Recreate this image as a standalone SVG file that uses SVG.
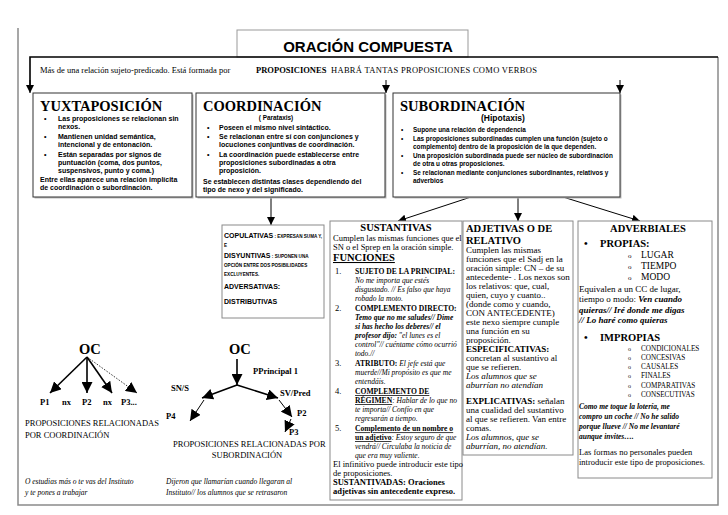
<svg xmlns="http://www.w3.org/2000/svg" width="728" height="515" viewBox="0 0 728 515">
<defs>
<style>
.t{font-family:"Liberation Sans",Arial,sans-serif;font-weight:bold;fill:#000}
.b7{font-family:"Liberation Sans",Arial,sans-serif;font-weight:bold;font-size:7px;fill:#000}
.b6{font-family:"Liberation Sans",Arial,sans-serif;font-weight:bold;font-size:6.4px;fill:#000}
.h{font-family:"Liberation Serif","Times New Roman",serif;font-weight:bold;font-size:14.5px;fill:#000}
.s{font-family:"Liberation Serif","Times New Roman",serif;font-size:8.5px;fill:#000}
.sb{font-family:"Liberation Serif","Times New Roman",serif;font-size:8.5px;font-weight:bold;fill:#000}
.si{font-family:"Liberation Serif","Times New Roman",serif;font-size:7.5px;font-style:italic;fill:#000}
.sbi{font-family:"Liberation Serif","Times New Roman",serif;font-size:7.5px;font-style:italic;font-weight:bold;fill:#000}
.hb{font-family:"Liberation Serif","Times New Roman",serif;font-size:7.6px;font-weight:bold;fill:#000}
.a8{font-family:"Liberation Serif","Times New Roman",serif;font-size:9px;fill:#000}
.sh{font-family:"Liberation Serif","Times New Roman",serif;font-weight:bold;font-size:10.5px;fill:#000}
.ul{text-decoration:underline}
.box{fill:#fff;stroke:#333;stroke-width:1}
.gbox{fill:#fff;stroke:#8a8a8a;stroke-width:1}
.shd{fill:#bbb}
.ln{stroke:#000;stroke-width:1;fill:none}
.thk{stroke:#000;stroke-width:1.6;fill:none}
.frm{stroke:#8a8a8a;stroke-width:1.5;fill:none}
</style>
<marker id="ah" viewBox="0 0 10 10" refX="10" refY="5" markerWidth="8" markerHeight="8" orient="auto" markerUnits="userSpaceOnUse"><path d="M0,0 L10,5 L0,10 z" fill="#000"/></marker>
<marker id="ahb" viewBox="0 0 10 10" refX="10" refY="5" markerWidth="11" markerHeight="11" orient="auto" markerUnits="userSpaceOnUse"><path d="M0,0 L10,5 L0,10 z" fill="#000"/></marker>
</defs>
<rect width="728" height="515" fill="#fff"/>

<!-- page frame -->
<path class="frm" d="M18,28 L18,505 L718,505 L718,57"/>

<!-- title -->
<g id="title">
<rect x="237" y="30" width="231" height="27" fill="#fff" stroke="#999" stroke-width="1"/>
<text class="t" x="368" y="52" font-size="15" text-anchor="middle">ORACIÓN COMPUESTA</text>
</g>

<!-- banner -->
<g id="banner">
<text class="s" x="40" y="73" font-size="8.4">Más de una relación sujeto-predicado. Está formada por</text>
<text class="sb" x="256" y="73" font-size="8.8">PROPOSICIONES</text>
<text class="s" x="331" y="73" font-size="8.8" letter-spacing="0.3">HABRÁ TANTAS PROPOSICIONES COMO VERBOS</text>
</g>

<!-- connectors -->
<g id="connectors">
<path d="M30,86 L30,57 L718,57" stroke="#000" stroke-width="1.6" fill="none"/>
<line class="ln" x1="30" y1="80" x2="30" y2="93" marker-end="url(#ah)"/>
<line class="ln" x1="386" y1="80" x2="386" y2="93" marker-end="url(#ah)"/>
<line class="ln" x1="620" y1="80" x2="620" y2="93" marker-end="url(#ah)"/>
<line class="ln" x1="271" y1="197" x2="271" y2="225" marker-end="url(#ah)"/>
<line class="ln" x1="471" y1="197" x2="398" y2="221" marker-end="url(#ah)"/>
<line class="ln" x1="518" y1="197" x2="518" y2="221" marker-end="url(#ah)"/>
<line class="ln" x1="563" y1="197" x2="640" y2="221" marker-end="url(#ah)"/>
<!-- OC coordinación -->
<line class="thk" x1="87" y1="357" x2="50" y2="393" marker-end="url(#ahb)"/>
<line class="thk" x1="87" y1="357" x2="87" y2="393" marker-end="url(#ahb)"/>
<line class="thk" x1="87" y1="357" x2="112" y2="393" marker-end="url(#ahb)"/>
<line x1="87" y1="357" x2="137" y2="393" stroke="#000" stroke-width="0.8" stroke-dasharray="1.5,1.5" marker-end="url(#ahb)"/>
<!-- OC subordinación -->
<line class="thk" x1="237" y1="359" x2="237" y2="385" marker-end="url(#ahb)"/>
<line class="thk" x1="237" y1="385" x2="202" y2="398" marker-end="url(#ahb)"/>
<line class="thk" x1="237" y1="385" x2="278" y2="398" marker-end="url(#ahb)"/>
<line class="ln" x1="204" y1="400" x2="190" y2="421" marker-end="url(#ahb)"/>
<line class="ln" x1="279" y1="400" x2="292" y2="417" marker-end="url(#ahb)"/>
<line class="ln" x1="291" y1="419" x2="285" y2="432" marker-end="url(#ahb)"/>
</g>

<!-- YUXTAPOSICIÓN -->
<g id="yuxtaposicion">
<rect class="shd" x="34.5" y="94.5" width="159" height="104"/>
<rect class="box" x="33" y="93" width="159" height="104"/>
<text class="h" x="40" y="111">YUXTAPOSICIÓN</text>
<g class="b7">
<text x="44" y="121">•</text><text x="58" y="121">Las proposiciones se relacionan sin</text>
<text x="58" y="129">nexos.</text>
<text x="44" y="139">•</text><text x="58" y="139">Mantienen unidad semántica,</text>
<text x="58" y="147">intencional y de entonación.</text>
<text x="44" y="157">•</text><text x="58" y="157">Están separadas por signos de</text>
<text x="58" y="165">puntuación (coma, dos puntos,</text>
<text x="58" y="173">suspensivos, punto y coma.)</text>
<text x="40" y="182">Entre ellas aparece una relación implícita</text>
<text x="40" y="190">de coordinación o subordinación.</text>
</g>
</g>

<!-- COORDINACIÓN -->
<g id="coordinacion">
<rect class="shd" x="197.5" y="94.5" width="189" height="104"/>
<rect class="box" x="196" y="93" width="189" height="104"/>
<text class="h" x="203" y="111">COORDINACIÓN</text>
<text class="b6" x="276" y="120" text-anchor="middle">( Parataxis)</text>
<g class="b7">
<text x="207" y="130">•</text><text x="219" y="130">Poseen el mismo nivel sintáctico.</text>
<text x="207" y="139">•</text><text x="219" y="139">Se relacionan entre sí con conjunciones y</text>
<text x="219" y="147">locuciones conjuntivas de coordinación.</text>
<text x="207" y="157">•</text><text x="219" y="157">La coordinación puede establecerse entre</text>
<text x="219" y="165">proposiciones subordinadas a otra</text>
<text x="219" y="173">proposición.</text>
<text x="203" y="184">Se establecen distintas clases dependiendo del</text>
<text x="203" y="192">tipo  de nexo y del significado.</text>
</g>
</g>

<!-- SUBORDINACIÓN -->
<g id="subordinacion">
<rect class="shd" x="394.5" y="94.5" width="227" height="104"/>
<rect class="box" x="393" y="93" width="227" height="104"/>
<text class="h" x="400" y="111">SUBORDINACIÓN</text>
<text class="t" x="481" y="121" font-size="8.5">(Hipotaxis)</text>
<g class="b6">
<text x="401" y="132">•</text><text x="413" y="132">Supone una relación de dependencia</text>
<text x="401" y="141">•</text><text x="413" y="141"> Las proposiciones subordinadas cumplen una función (sujeto o</text>
<text x="413" y="149">complemento) dentro de la proposición de la que dependen.</text>
<text x="401" y="158">•</text><text x="413" y="158">Una proposición subordinada puede ser núcleo de subordinación</text>
<text x="413" y="166">de otra u otras proposiciones.</text>
<text x="401" y="175">•</text><text x="413" y="175">Se relacionan mediante conjunciones subordinantes, relativos y</text>
<text x="413" y="183">adverbios</text>
</g>
</g>

<!-- COPULATIVAS etc -->
<g id="clases-coordinadas">
<rect class="gbox" x="222" y="225" width="102" height="93"/>
<text class="t" x="224" y="238" font-size="7">COPULATIVAS<tspan font-size="4.6"> : EXPRESAN SUMA  Y,</tspan></text>
<text class="t" x="224" y="247" font-size="4.6">E</text>
<text class="t" x="224" y="258" font-size="7">DISYUNTIVAS<tspan font-size="4.6"> : SUPONEN UNA</tspan></text>
<text class="t" x="224" y="267" font-size="4.6">OPCIÓN ENTRE DOS POSIBILIDADES</text>
<text class="t" x="224" y="276" font-size="4.6">EXCLUYENTES.</text>
<text class="t" x="224" y="289" font-size="7">ADVERSATIVAS:</text>
<text class="t" x="224" y="304" font-size="7">DISTRIBUTIVAS</text>
</g>

<!-- SUSTANTIVAS -->
<g id="sustantivas">
<rect class="gbox" x="330" y="221" width="132" height="279"/>
<text class="sh" x="396" y="231" text-anchor="middle">SUSTANTIVAS</text>
<text class="s" x="333" y="241">Cumplen las mismas funciones que el</text>
<text class="s" x="333" y="250">SN o el Sprep en la oración simple.</text>
<text class="sh ul" x="333" y="261" font-size="9.5">FUNCIONES</text>
<text class="s" x="335" y="274" font-size="9.5">1.</text>
<text class="hb" x="355" y="274">SUJETO DE LA PRINCIPAL:</text>
<text class="si" x="355" y="282.9">No me importa que estés</text>
<text class="si" x="355" y="291.8">disgustado. // Es falso que haya</text>
<text class="si" x="355" y="300.7">robado la moto.</text>
<text class="s" x="335" y="311.1" font-size="9.5">2.</text>
<text class="hb" x="355" y="311.1">COMPLEMENTO DIRECTO:</text>
<text class="sbi" x="355" y="320">Temo que no me saludes// Dime</text>
<text class="sbi" x="355" y="328.9">si has hecho los deberes//  el</text>
<text class="sbi" x="355" y="337.8">profesor dijo:<tspan font-weight="normal"> "el lunes es el</tspan></text>
<text class="si" x="355" y="346.7">control"// cuéntame cómo ocurrió</text>
<text class="si" x="355" y="355.6">todo.//</text>
<text class="s" x="335" y="366" font-size="9.5">3.</text>
<text class="hb" x="355" y="366">ATRIBUTO:<tspan font-weight="normal" font-style="italic" font-size="7.5"> El jefe está que</tspan></text>
<text class="si" x="355" y="374.9">muerde//Mi propósito es que me</text>
<text class="si" x="355" y="383.8">entendáis.</text>
<text class="s" x="335" y="394.2" font-size="9.5">4.</text>
<text class="hb ul" x="355" y="394.2">COMPLEMENTO DE</text>
<text class="hb" x="355" y="403.1"><tspan class="ul">RÉGIMEN</tspan><tspan font-weight="normal" font-style="italic" font-size="7.5">: Hablar de lo que no</tspan></text>
<text class="si" x="355" y="412">te importa// Confío en que</text>
<text class="si" x="355" y="420.9">regresarán a tiempo.</text>
<text class="s" x="335" y="431.3" font-size="9.5">5.</text>
<text class="hb ul" x="355" y="431.3">Complemento de un nombre o</text>
<text class="hb" x="355" y="440.2"><tspan class="ul">un adjetivo</tspan><tspan font-weight="normal" font-style="italic" font-size="7.5">: Estoy seguro de que</tspan></text>
<text class="si" x="355" y="449.1">vendrá// Circulaba la noticia de</text>
<text class="si" x="355" y="458">que era muy valiente.</text>
<text class="s" x="333" y="466.9" font-size="7.9">El infinitivo puede introducir este tipo</text>
<text class="s" x="333" y="475.8" font-size="7.9">de proposiciones.</text>
<text class="sb" x="333" y="484.7" font-size="8.2">SUSTANTIVADAS: Oraciones</text>
<text class="sb" x="333" y="493.6" font-size="8">adjetivas sin antecedente expreso.</text>
</g>

<!-- ADJETIVAS -->
<g id="adjetivas">
<rect class="gbox" x="463" y="221" width="110" height="234"/>
<text class="sh" x="466" y="232" font-size="11.5">ADJETIVAS O DE</text>
<text class="sh" x="466" y="244" font-size="11.5">RELATIVO</text>
<g class="a8">
<text x="466" y="253">Cumplen las mismas</text>
<text x="466" y="262">funciones que el Sadj en la</text>
<text x="466" y="271">oración simple: CN – de su</text>
<text x="466" y="280">antecedente- .  Los nexos son</text>
<text x="466" y="289">los relativos: que, cual,</text>
<text x="466" y="298">quien, cuyo y cuanto..</text>
<text x="466" y="307">(donde como y cuando,</text>
<text x="466" y="316">CON ANTECEDENTE)</text>
<text x="466" y="325">este nexo siempre cumple</text>
<text x="466" y="334">una función en su</text>
<text x="466" y="343">proposición.</text>
<text x="466" y="352" font-weight="bold">ESPECIFICATIVAS:</text>
<text x="466" y="361">concretan al sustantivo al</text>
<text x="466" y="370">que se refieren.</text>
<text x="466" y="379" font-style="italic">Los alumnos que se</text>
<text x="466" y="388" font-style="italic">aburrían no atendían</text>
<text x="466" y="404"><tspan font-weight="bold">EXPLICATIVAS:</tspan> señalan</text>
<text x="466" y="413">una cualidad del sustantivo</text>
<text x="466" y="422">al que se refieren. Van entre</text>
<text x="466" y="431">comas.</text>
<text x="466" y="440" font-style="italic">Los alumnos, que se</text>
<text x="466" y="449" font-style="italic">aburrían, no atendían.</text>
</g>
</g>

<!-- ADVERBIALES -->
<g id="adverbiales">
<rect class="gbox" x="578" y="221" width="134" height="257"/>
<text class="sh" x="648" y="232" text-anchor="middle" font-size="11">ADVERBIALES</text>
<text class="sh" x="584" y="247" font-size="10">•</text>
<text class="sh" x="600" y="247" font-size="9.5">PROPIAS:</text>
<g font-family="Liberation Serif, Times New Roman, serif" font-size="9.5">
<text x="628" y="258" font-size="7">o</text><text x="641" y="258">LUGAR</text>
<text x="628" y="269" font-size="7">o</text><text x="641" y="269">TIEMPO</text>
<text x="628" y="280" font-size="7">o</text><text x="641" y="280">MODO</text>
</g>
<text class="a8" x="579" y="292" font-size="9.4">Equivalen a un CC de lugar,</text>
<text class="a8" x="579" y="302" font-size="9.4">tiempo o modo: <tspan font-weight="bold" font-style="italic">Ven cuando</tspan></text>
<text class="a8" x="579" y="313" font-size="9.2" font-weight="bold" font-style="italic">quieras// Iré donde me digas</text>
<text class="a8" x="579" y="323" font-size="9.2" font-weight="bold" font-style="italic">// Lo haré como quieras</text>
<text class="sh" x="584" y="341" font-size="10">•</text>
<text class="sh" x="600" y="341" font-size="9.5">IMPROPIAS</text>
<g font-family="Liberation Serif, Times New Roman, serif" font-size="7.2">
<text x="628" y="351" font-size="6">o</text><text x="641" y="351">CONDICIONALES</text>
<text x="628" y="360" font-size="6">o</text><text x="641" y="360">CONCESIVAS</text>
<text x="628" y="369" font-size="6">o</text><text x="641" y="369">CAUSALES</text>
<text x="628" y="378" font-size="6">o</text><text x="641" y="378">FINALES</text>
<text x="628" y="388" font-size="6">o</text><text x="641" y="388">COMPARATIVAS</text>
<text x="628" y="397" font-size="6">o</text><text x="641" y="397">CONSECUTIVAS</text>
</g>
<g class="sbi" font-size="8.6">
<text x="579" y="409">Como me toque la lotería, me</text>
<text x="579" y="419">compro un coche // No he salido</text>
<text x="579" y="429">porque llueve // No me levantaré</text>
<text x="579" y="439">aunque invites….</text>
</g>
<text class="s" x="579" y="455" font-size="8.4">Las formas no personales pueden</text>
<text class="s" x="579" y="465" font-size="8.4">introducir este tipo de proposiciones.</text>
</g>

<!-- OC coordinación -->
<g id="oc-coordinacion">
<text class="h" x="79" y="354" font-size="14">OC</text>
<g class="sb" font-size="9">
<text x="40" y="405">P1</text><text x="62" y="405">nx</text><text x="82" y="405">P2</text><text x="103" y="405">nx</text><text x="121" y="405">P3...</text>
</g>
<text class="s" x="25" y="426" font-size="9">PROPOSICIONES RELACIONADAS</text>
<text class="s" x="25" y="438" font-size="9">POR COORDINACIÓN</text>
<text class="si" x="25" y="484" font-size="8">O estudias más o te vas del Instituto</text>
<text class="si" x="25" y="495" font-size="8">y te pones a trabajar</text>
</g>

<!-- OC subordinación -->
<g id="oc-subordinacion">
<text class="h" x="229" y="354" font-size="14">OC</text>
<text class="sb" x="253" y="374" font-size="8.5">PPrincipal 1</text>
<text class="sb" x="171" y="391" font-size="8.5">SN/S</text>
<text class="sb" x="280" y="396" font-size="8.5">SV/Pred</text>
<text class="sb" x="166" y="419" font-size="8.5">P4</text>
<text class="sb" x="297" y="416" font-size="8.5">P2</text>
<text class="sb" x="289" y="435" font-size="8">P3</text>
<text class="s" x="173" y="447" font-size="8.3">PROPOSICIONES RELACIONADAS POR</text>
<text class="s" x="247" y="458" font-size="8.3" text-anchor="middle">SUBORDINACIÓN</text>
<text class="si" x="166" y="484" font-size="8.6">Dijeron que llamarían cuando llegaran al</text>
<text class="si" x="166" y="495" font-size="8.6">Instituto// los alumnos que se retrasaron</text>
</g>
</svg>
